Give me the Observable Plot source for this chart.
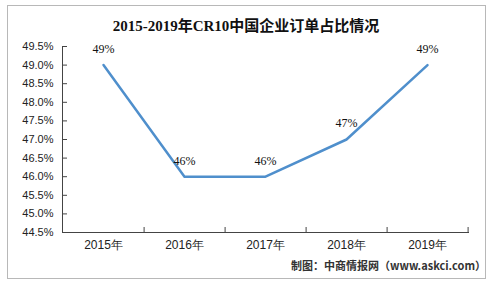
<!DOCTYPE html>
<html>
<head>
<meta charset="utf-8">
<script src="https://cdn.jsdelivr.net/npm/d3@7"></script>
<script src="https://cdn.jsdelivr.net/npm/@observablehq/plot@0.6"></script>
<style>
  html, body { margin: 0; padding: 0; background: #fff; }
  #wrap { position: relative; width: 496px; height: 286px; overflow: hidden; background: #fff; }
  #border { position: absolute; left: 7px; top: 5px; width: 477px; height: 272px; border: 1px solid #b8b8b8; pointer-events: none; }
  #title { position: absolute; left: 0; width: 492px; top: 14px; text-align: center; font: bold 15px "Liberation Serif", "Noto Sans CJK SC", serif; color: #111; }
  #caption { position: absolute; right: 10px; top: 257px; font: bold 11px "Noto Sans CJK SC", sans-serif; color: #333; white-space: nowrap; }
  #chart { position: absolute; left: 0; top: 0; }
</style>
</head>
<body>
<div id="wrap">
  <div id="chart"></div>
  <div id="border"></div>
  <div id="title">2015-2019年CR10中国企业订单占比情况</div>
  <div id="caption">制图：中商情报网（www.askci.com）</div>
</div>
<script>
const years = ["2015年", "2016年", "2017年", "2018年", "2019年"];
const values = [49, 46, 46, 47, 49];
const valueLabels = ["49%", "46%", "46%", "47%", "49%"];
const yTicks = [44.5, 45.0, 45.5, 46.0, 46.5, 47.0, 47.5, 48.0, 48.5, 49.0, 49.5];

const data = years.map((y, i) => ({year: y, value: values[i], label: valueLabels[i]}));

const marginLeft = 62, marginRight = 28, width = 496;
const halfStep = (width - marginLeft - marginRight) / years.length / 2;
const axisColor = "#444";

const plot = Plot.plot({
  width: 496,
  height: 286,
  marginLeft, marginRight,
  marginTop: 46,
  marginBottom: 54,
  style: {background: "transparent", color: "#222"},
  x: {type: "point", domain: years, padding: 0.5, label: null},
  y: {domain: [44.5, 49.5], label: null},
  marks: [
    Plot.axisY(yTicks, {tickSize: 5, dx: 5, tickFormat: () => "", stroke: axisColor}),
    Plot.axisY(yTicks, {tickSize: 0, tickPadding: 9, tickFormat: d => d.toFixed(1) + "%", fontSize: 11, fontFamily: "Liberation Sans, sans-serif", fill: "#222"}),
    Plot.axisX(years, {tickSize: 5, dx: halfStep, dy: -5, tickFormat: () => "", stroke: axisColor}),
    Plot.axisX(years, {tickSize: 0, tickPadding: 8, fontSize: 12, fontFamily: "Liberation Sans, sans-serif", fill: "#222"}),
    Plot.frame({anchor: "left", stroke: axisColor}),
    Plot.frame({anchor: "bottom", stroke: axisColor}),
    Plot.line(data, {x: "year", y: "value", stroke: "#4f8fcc", strokeWidth: 2.5}),
    Plot.text(data, {x: "year", y: "value", text: "label", dy: -16, fontSize: 12, fontFamily: "Liberation Serif, serif", fill: "#111"})
  ]
});
document.getElementById("chart").appendChild(plot);
</script>
</body>
</html>
